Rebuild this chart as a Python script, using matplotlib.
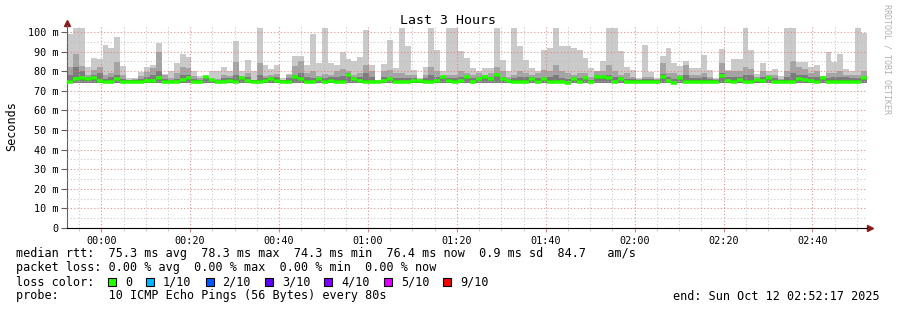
import numpy as np
import matplotlib
matplotlib.use("Agg")
import matplotlib.pyplot as plt
from matplotlib.patches import Rectangle

# 135 steps of 80 s, 23:52:17 -> 02:52:17 (minutes relative to 00:00)
START_MIN = -7 - 43 / 60
STEP_MIN = 80 / 60
LOW_RTT = 74.0

top_rtt = [99, 102, 102, 82, 87, 86.5, 93.4, 91.7, 97.4, 82.8, 76.4, 76.7, 79.8, 82, 83, 94.5, 78.5, 80, 84, 88.8, 87.4, 80, 77.5,
           76.5, 80, 80, 82, 80, 95.6, 80, 85.7, 80, 102.2, 83, 81, 83, 76.3, 78.5, 87.8, 87.8, 83.3, 99, 84, 102.2, 84,
           83, 89.6, 86, 85, 87.4, 101, 83, 75.5, 83.7, 96, 81.5, 102, 93, 80.6, 76.4, 82, 102, 90.8, 80, 102, 102, 90.3,
           86.6, 81.5, 80, 81.5, 81.5, 102, 85.7, 80, 102, 93, 85.7, 81.5, 80, 90.8, 91.7, 102, 93, 93, 91.7, 90.8, 86.6, 81.5, 80,
           85, 102, 102, 90.3, 82.3, 80.6, 76.4, 93.4, 79.8, 76.4, 87.9, 91.7, 84, 82.8, 85.2, 81.8, 81.5, 88.2, 80.6, 76.4, 91.3, 80.6,
           86, 86.5, 102, 91, 78.6, 84, 80, 81, 77.4, 102, 102, 84.8, 84.8, 82, 83, 77.5, 90, 84.8, 88.9, 81, 80, 102, 99.7]

upper_rtt = [82, 89, 82.5, 78, 80.5, 82, 78, 79, 84.5, 78, 75.5, 76, 77.5, 79.5, 81.8, 90, 78, 76.5, 79, 82, 81.5, 77.5, 76.5,
             78, 76, 76, 78, 77.5, 84.5, 77.5, 79, 75.5, 84, 77.5, 78, 78.5, 75.5, 78, 82.5, 85, 79, 80, 77.5, 78.7, 78,
             80, 81, 80, 78, 79, 83, 80, 75.3, 80, 80.6, 79, 79, 78, 78, 76, 78, 82, 80, 77.5, 78, 78, 80,
             79, 78, 79, 78, 79, 82, 80, 77, 78, 80, 79, 78, 79, 80.6, 80, 83, 80, 79, 78, 79, 79, 77, 80,
             80, 83, 80, 78, 79, 77, 76, 77, 77, 76, 84, 79, 79, 78, 83, 78, 78, 79, 77, 76, 84, 80,
             80, 80, 82, 81, 77, 80, 78, 78, 76, 80, 85, 82, 81, 79, 80, 77, 79, 79, 80, 78, 78, 78, 80]

inner_rtt = [78, 82, 80, 77, 78, 79, 76, 77, 78, 76, 75.5, 75.5, 76, 77, 78, 80, 76, 75.5, 76, 78, 78, 76, 75.5,
             77.5, 76, 75.5, 76.5, 76.5, 78, 77, 77, 75, 78, 76.5, 77, 77, 75.3, 76.5, 78, 79, 77, 76.5, 76.5, 76.5, 77,
             77, 77.5, 79, 77, 77, 79, 77, 75, 77, 77, 76.5, 76.5, 76.5, 76.5, 75.5, 76.5, 78, 77, 77.5, 76.5, 76.5, 77,
             77.5, 76.5, 77, 77.5, 77, 79, 77, 76, 76.5, 77, 77, 77, 76.5, 77, 77, 78, 76.5, 76, 77, 76.5, 77, 75.5, 78,
             77.5, 78, 77, 77, 76, 76, 75.5, 76, 76, 75.5, 78.5, 77, 76, 77, 78, 76.5, 76.5, 77, 76, 75.5, 79, 77,
             77, 77, 78, 78, 76, 77, 77, 76.5, 75.5, 77, 79, 78, 78, 77, 77, 77, 76.5, 77, 77, 77, 76.5, 76.5, 77]

median_rtt = [74.7, 75.9, 76.7, 75.9, 76.7, 75.0, 74.7, 74.3, 75.9, 74.7, 74.7, 74.7, 74.7, 75.0, 75.0, 76.7, 74.7, 74.3, 74.3, 75.5, 76.4, 74.7, 74.7,
              76.9, 75.3, 74.5, 74.5, 75.2, 74.7, 76.4, 75.0, 74.7, 74.7, 75.2, 75.8, 75.2, 74.7, 74.7, 76.9, 75.8, 74.7, 74.3, 75.8, 74.7, 75.2,
              74.7, 74.7, 78.3, 75.8, 75.0, 74.7, 74.3, 74.3, 75.0, 75.8, 74.7, 74.3, 74.3, 75.0, 75.0, 74.3, 74.7, 75.0, 76.9, 75.2, 74.7, 75.0,
              76.9, 74.3, 76.0, 76.9, 75.8, 78.1, 75.8, 75.0, 74.7, 74.7, 74.7, 76.0, 74.7, 75.8, 74.7, 74.7, 74.3, 74.0, 75.8, 74.7, 76.4, 74.7, 77.2,
              76.9, 76.4, 74.3, 75.8, 74.3, 74.7, 74.7, 74.7, 74.7, 74.7, 77.2, 75.0, 74.1, 76.4, 74.7, 74.7, 74.7, 74.7, 74.7, 74.7, 77.7, 75.0,
              74.7, 75.4, 74.7, 74.7, 75.4, 75.0, 76.4, 74.7, 74.7, 74.7, 74.7, 76.2, 75.4, 75.0, 74.7, 76.3, 74.7, 74.7, 74.7, 74.7, 74.7, 74.7, 76.4]

x_ticks = [0, 20, 40, 60, 80, 100, 120, 140, 160]
x_labels = ["00:00", "00:20", "00:40", "01:00", "01:20", "01:40", "02:00", "02:20", "02:40"]
y_ticks = [0, 10, 20, 30, 40, 50, 60, 70, 80, 90, 100]
y_labels = ["0"] + [f"{v} m" for v in y_ticks[1:]]

loss_labels = ["0", "1/10", "2/10", "3/10", "4/10", "5/10", "9/10"]
loss_colors = ["#26ff00", "#00b8ff", "#0059ff", "#5e00ff", "#7e00ff", "#dd00ff", "#ff0000"]

stats_lines = [
    "median rtt:  75.3 ms avg  78.3 ms max  74.3 ms min  76.4 ms now  0.9 ms sd  84.7   am/s",
    "packet loss: 0.00 % avg  0.00 % max  0.00 % min  0.00 % now",
]
probe_text = "probe:       10 ICMP Echo Pings (56 Bytes) every 80s"
end_text = "end: Sun Oct 12 02:52:17 2025"

W, H = 897, 310
MONO = "DejaVu Sans Mono"

top = np.array(top_rtt)
upper = np.minimum(np.array(upper_rtt), top)
inner = np.minimum(np.array(inner_rtt), upper)
med = np.array(median_rtt)
n = len(top)
left = START_MIN + np.arange(n) * STEP_MIN

fig = plt.figure(figsize=(W / 100, H / 100), dpi=100)
fig.patch.set_facecolor("white")
ax = fig.add_axes([67 / W, 82 / H, 800 / W, 203 / H])
ax.set_facecolor("white")

# smoke layers
for vals, col in [(top, "#cacaca"), (upper, "#a4a4a4"), (inner, "#7c7c7c")]:
    ax.bar(left, vals - LOW_RTT, bottom=LOW_RTT, width=STEP_MIN, align="edge",
           color=col, linewidth=0, zorder=2)
dark_lo = np.maximum(med - 1.0, LOW_RTT)
ax.bar(left, med + 0.6 - dark_lo, bottom=dark_lo, width=STEP_MIN, align="edge",
       color="#3c3c3c", linewidth=0, zorder=2.5)
ax.hlines(med, left, left + STEP_MIN, colors=loss_colors[0], linewidth=2.6, zorder=4)

ax.set_xlim(START_MIN, START_MIN + n * STEP_MIN)
ax.set_ylim(0, 103.6)

ax.set_xticks(x_ticks)
ax.set_xticklabels(x_labels, fontsize=7.3, family=MONO)
ax.set_xticks(np.arange(-5, 175, 5), minor=True)
ax.set_yticks(y_ticks)
ax.set_yticklabels(y_labels, fontsize=7.3, family=MONO)
ax.set_yticks(np.arange(5, 104, 10), minor=True)

# rrdtool draws the grid over the smoke
ax.grid(which="minor", color="#bcbcbc", linestyle=(0, (1, 2)), linewidth=0.8, zorder=3, alpha=0.8)
ax.grid(which="major", color="#f07070", linestyle=(0, (1, 2)), linewidth=0.8, zorder=3, alpha=0.8)
ax.set_axisbelow(False)
for gl in ax.get_xgridlines() + ax.get_ygridlines():
    gl.set_zorder(3)
ax.tick_params(axis="x", which="major", length=3, color="#f08080", pad=3)
ax.tick_params(axis="x", which="minor", length=2, color="#c0c0c0")
ax.tick_params(axis="y", which="major", length=4, color="#606060", pad=2)
ax.tick_params(axis="y", which="minor", length=0)

for s in ["top", "right"]:
    ax.spines[s].set_visible(False)
ax.spines["bottom"].set_color("black")
ax.spines["left"].set_color("#606060")
ax.spines["bottom"].set_zorder(5)
ax.plot([1.004], [0], marker=">", color="#8b1a1a", markersize=4, transform=ax.transAxes, clip_on=False)
ax.plot([0], [1.012], marker="^", color="#8b1a1a", markersize=4, transform=ax.transAxes, clip_on=False)

ax.set_ylabel("Seconds", fontsize=8.5, family=MONO, labelpad=7)

def px(x, y):
    return x / W, 1 - y / H

fig.text(*px(448, 20), "Last 3 Hours", fontsize=9.5, family=MONO, ha="center", va="center")
fig.text(*px(887, 4), "RRDTOOL / TOBI OETIKER", fontsize=6, family=MONO, color="#b0b0b0",
         rotation=270, ha="center", va="top")

for i, line in enumerate(stats_lines):
    fig.text(*px(16, 254 + 14 * i), line, fontsize=8.5, family=MONO, va="center")

fig.text(*px(16, 282), "loss color:", fontsize=8.5, family=MONO, va="center")
char_w = 7.1
xs = 108
for lab, col in zip(loss_labels, loss_colors):
    fig.patches.append(Rectangle(px(xs, 286), 8 / W, 8 / H, transform=fig.transFigure,
                                 facecolor=col, edgecolor="black", linewidth=0.8))
    fig.text(*px(xs + 17, 282), lab, fontsize=8.5, family=MONO, va="center")
    xs = xs + 17 + len(lab) * char_w + 14

fig.text(*px(16, 296), probe_text, fontsize=8.5, family=MONO, va="center")
fig.text(*px(880, 296), end_text, fontsize=8.5, family=MONO, va="center", ha="right")

fig.savefig("out.png", dpi=100)
